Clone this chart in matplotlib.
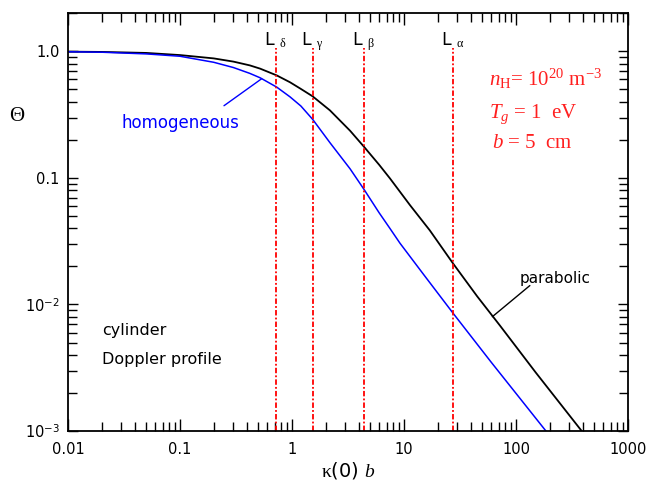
import numpy as np
import matplotlib.pyplot as plt
from matplotlib.ticker import FixedLocator, FixedFormatter, LogLocator, NullFormatter

plt.rcParams['font.family'] = ['DejaVu Sans']
plt.rcParams['mathtext.fontset'] = 'custom'
plt.rcParams['mathtext.rm'] = 'Liberation Serif'
plt.rcParams['mathtext.it'] = 'Liberation Serif:italic'

# escape factor vs optical depth, parabolic density profile
x_para = [0.01, 0.02, 0.05, 0.1, 0.2, 0.3, 0.42, 0.52, 0.73, 0.96, 1.2, 1.53,
          2.18, 3.3, 4.4, 6, 7.5, 11.3, 17, 27.5, 45, 72, 150, 386]
theta_para = [0.995, 0.99, 0.972, 0.935, 0.88, 0.83, 0.775, 0.73, 0.646, 0.57, 0.505, 0.441,
              0.342, 0.236, 0.176, 0.127, 0.099, 0.061, 0.0385, 0.021, 0.0116, 0.0068, 0.0029, 0.001]

# homogeneous density
x_homo = [0.01, 0.02, 0.05, 0.1, 0.2, 0.3, 0.42, 0.52, 0.73, 0.96, 1.2, 1.53,
          2.18, 3.3, 4.4, 6, 7.5, 9.2, 15, 27.5, 60, 185]
theta_homo = [0.993, 0.985, 0.955, 0.915, 0.82, 0.745, 0.67, 0.618, 0.522, 0.437, 0.37, 0.29,
              0.19, 0.118, 0.081, 0.053, 0.0398, 0.0305, 0.0172, 0.0085, 0.0035, 0.001]

# Lyman line positions
lines_x = [0.72, 1.53, 4.43, 27.6]
lines_lab = [r'L $_{\mathrm{\delta}}$', r'L $_{\mathrm{\gamma}}$',
             r'L $_{\mathrm{\beta}}$', r'L $_{\mathrm{\alpha}}$']

xticks = [0.01, 0.1, 1, 10, 100, 1000]
xticklabels = ['0.01', '0.1', '1', '10', '100', '1000']
yticks = [0.001, 0.01, 0.1, 1.0]
yticklabels = [r'10$^{\mathregular{-3}}$', r'10$^{\mathregular{-2}}$', '0.1', '1.0']

fig = plt.figure(figsize=(6.46, 4.83), dpi=100)
ax = fig.add_axes([0.1053, 0.1077, 0.8668, 0.8648])

ax.plot(x_para, theta_para, color='black', lw=1.3)
ax.plot(x_homo, theta_homo, color='blue', lw=1.1)

for xv, lab in zip(lines_x, lines_lab):
    ax.plot([xv, xv], [0.001, 1.06], color='red', lw=1.3,
            linestyle=(0, (3, 1.2, 1, 1.2)))
    ax.text(xv * 0.98, 1.12, lab, ha='center', va='baseline', fontsize=12.5)

ax.set_xscale('log')
ax.set_yscale('log')
ax.set_xlim(0.01, 1000)
ax.set_ylim(0.001, 2.0)

ax.xaxis.set_major_locator(FixedLocator(xticks))
ax.xaxis.set_major_formatter(FixedFormatter(xticklabels))
ax.xaxis.set_minor_locator(LogLocator(base=10, subs=np.arange(2, 10)))
ax.xaxis.set_minor_formatter(NullFormatter())
ax.yaxis.set_major_locator(FixedLocator(yticks))
ax.yaxis.set_major_formatter(FixedFormatter(yticklabels))
ax.yaxis.set_minor_locator(LogLocator(base=10, subs=np.arange(2, 10)))
ax.yaxis.set_minor_formatter(NullFormatter())

ax.tick_params(axis='both', which='both', direction='in', top=True, right=True,
               width=1.0, labelsize=10.5)
ax.tick_params(axis='x', which='major', length=8.5, pad=8)
ax.tick_params(axis='x', which='minor', length=6.5)
ax.tick_params(axis='y', which='major', length=7.5, pad=6)
ax.tick_params(axis='y', which='minor', length=6.5)
for s in ax.spines.values():
    s.set_linewidth(1.3)

ax.set_xlabel(r'$\mathrm{\kappa}$(0) $b$', fontsize=14, labelpad=2)
ax.set_ylabel(r'$\mathrm{\Theta}$', fontsize=15, rotation=0, ha='center', va='center')
ax.yaxis.set_label_coords(-0.091, 0.757)

# curve labels with leader lines
ax.annotate('', xy=(0.536, 0.608), xytext=(0.247, 0.372),
            arrowprops=dict(arrowstyle='-', color='blue', lw=1.0, shrinkA=0, shrinkB=0))
ax.text(0.1, 0.27, 'homogeneous', color='blue', fontsize=12, ha='center', va='center')
ax.annotate('', xy=(61.5, 0.0080), xytext=(133, 0.0141),
            arrowprops=dict(arrowstyle='-', color='black', lw=1.0, shrinkA=0, shrinkB=0))
ax.text(223, 0.0161, 'parabolic', fontsize=11, ha='center', va='center')

ax.text(0.0201, 0.00622, 'cylinder', fontsize=11.5, va='center')
ax.text(0.0201, 0.00367, 'Doppler profile', fontsize=11.5, va='center')

red = '#ff2020'
ax.text(57.4, 0.539, r'$n_{\mathrm{H}}$= 10$^{20}$ m$^{-3}$', color=red,
        fontsize=15, fontfamily='Liberation Serif', va='baseline')
ax.text(57.4, 0.295, r'$T_g$ = 1  eV', color=red,
        fontsize=15, fontfamily='Liberation Serif', va='baseline')
ax.text(61.6, 0.171, r'$b$ = 5  cm', color=red,
        fontsize=15, fontfamily='Liberation Serif', va='baseline')

fig.savefig('out.png', dpi=100)
